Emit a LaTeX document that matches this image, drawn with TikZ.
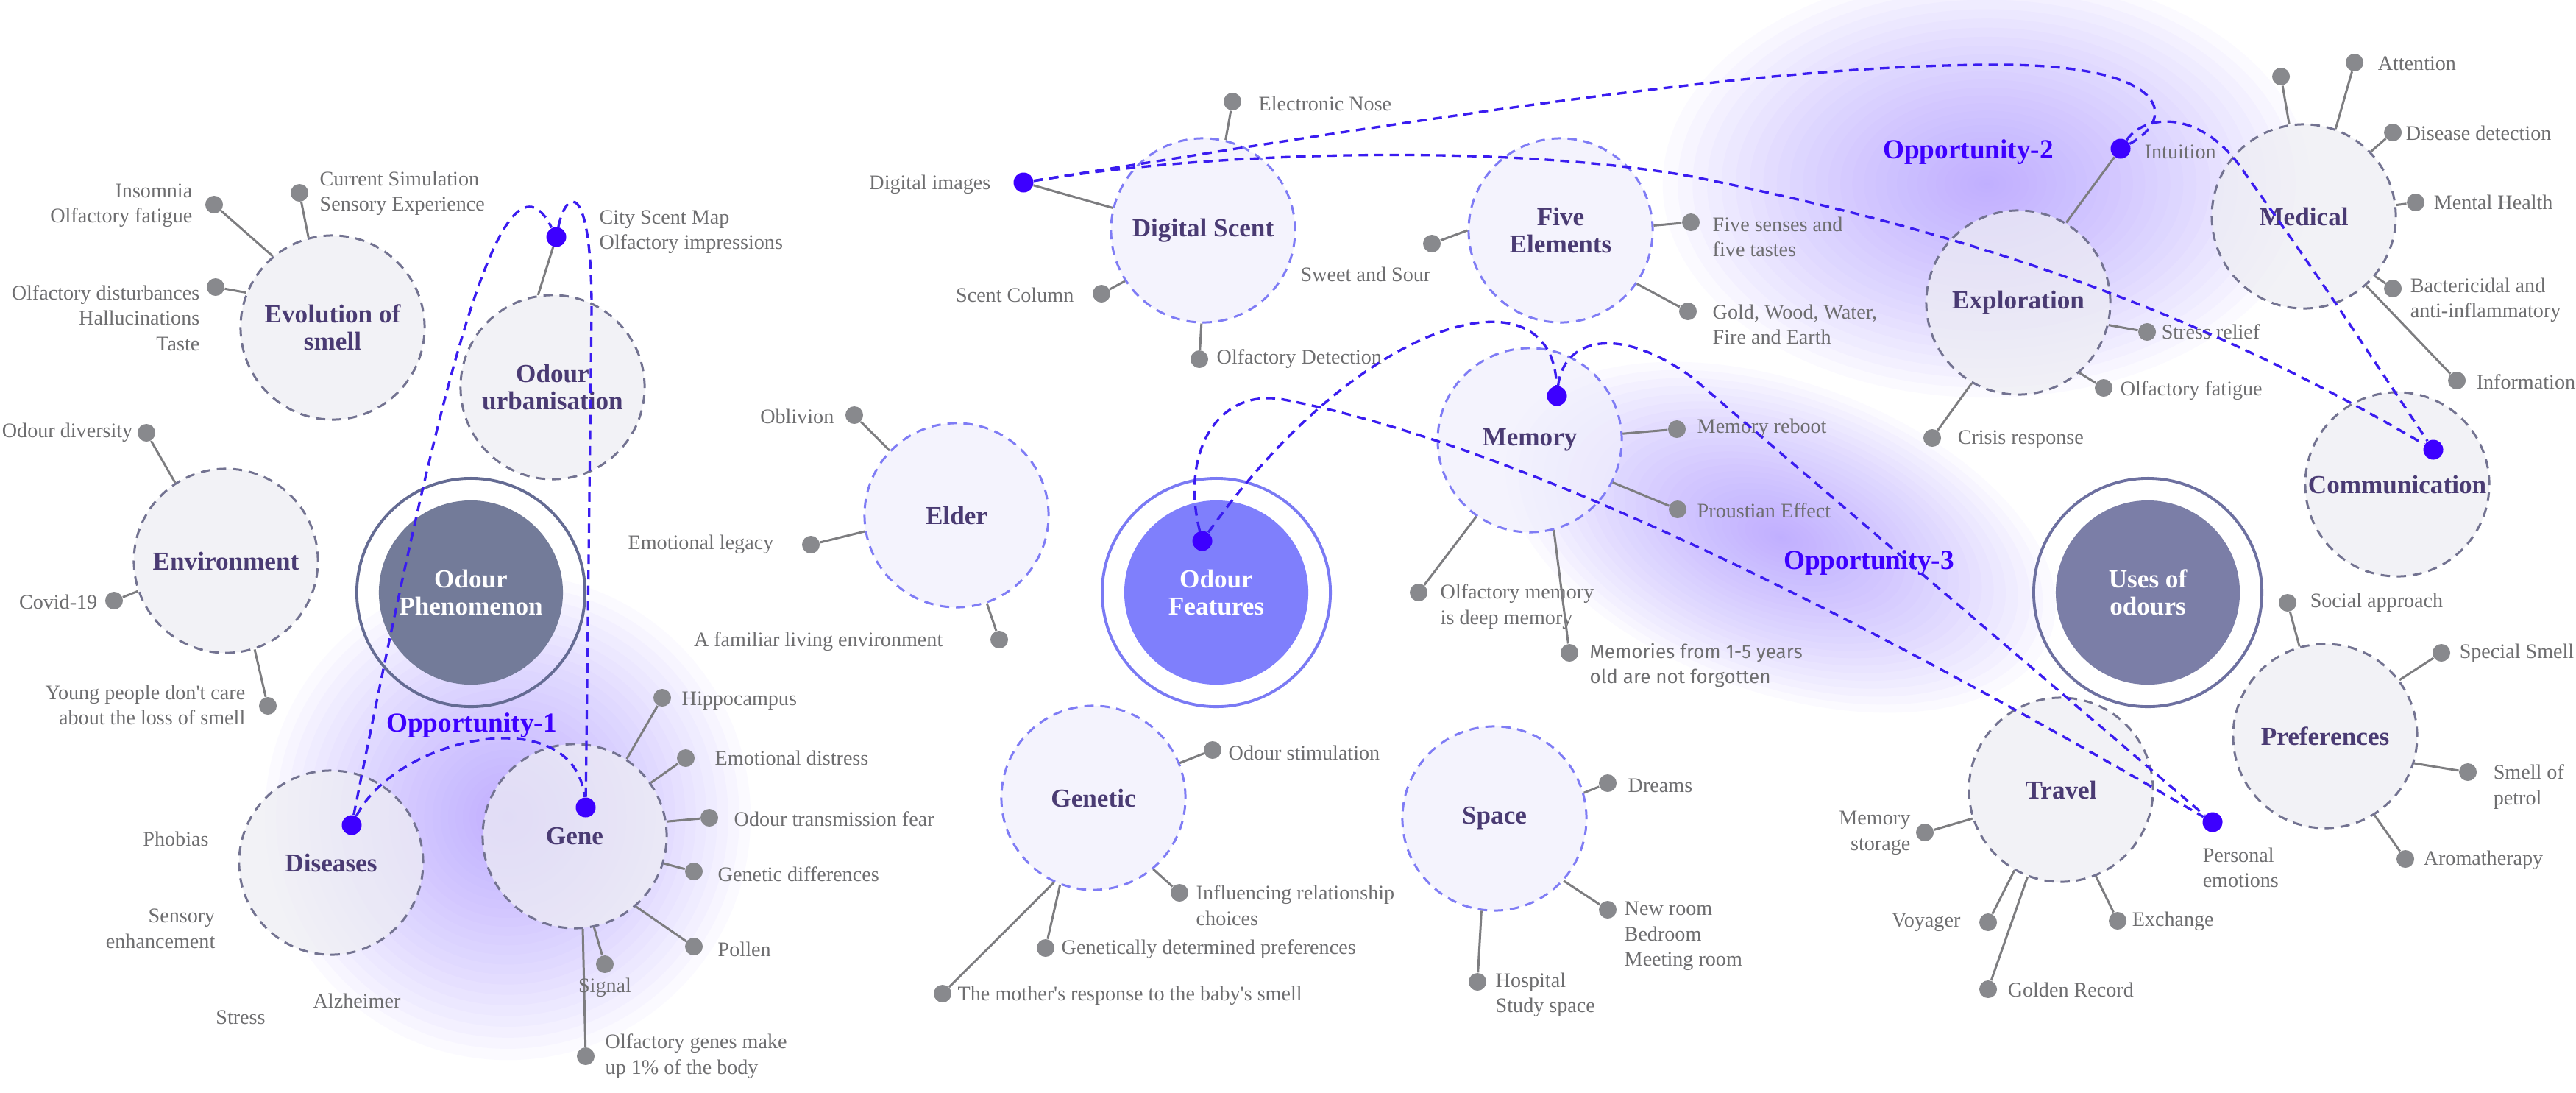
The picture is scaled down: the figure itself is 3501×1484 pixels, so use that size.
\documentclass[tikz,border=0pt]{standalone}
\usepackage{fontspec}
\setmainfont{Liberation Serif}
\newfontfamily\mysansfont{Fira Sans}
\definecolor{titlec}{HTML}{4A3B73}
\definecolor{leafc}{HTML}{6E6E70}
\definecolor{dotg}{HTML}{88898D}
\definecolor{lineg}{HTML}{7D7D80}
\definecolor{grayf}{HTML}{EEEEF3}
\definecolor{grayb}{HTML}{737391}
\definecolor{lavf}{HTML}{F0EFFD}
\definecolor{lavb}{HTML}{7F7CF5}
\definecolor{phenf}{HTML}{737B99}
\definecolor{phenr}{HTML}{646B93}
\definecolor{usesf}{HTML}{7B7EA7}
\definecolor{usesr}{HTML}{6D70A0}
\definecolor{featf}{HTML}{7F7FFC}
\definecolor{featr}{HTML}{7A7AF4}
\definecolor{blued}{HTML}{3D00FF}
\definecolor{bluel}{HTML}{3A1CF0}
\definecolor{glowc}{HTML}{B8A2FF}
\newcommand{\mytitlefont}{\fontsize{10}{10.6}\selectfont\bfseries}
\newcommand{\myleaffont}{\fontsize{8}{9.8}\selectfont}
\newcommand{\myoppfont}{\fontsize{10.6}{12}\selectfont\bfseries}
\newcommand{\apo}{\textquotesingle}
\begin{document}
\begin{tikzpicture}[x=0.01cm,y=-0.01cm,
 gc/.style={circle, minimum size=2.5cm, inner sep=0pt, draw=grayb, fill=grayf, fill opacity=0.72, text opacity=1, draw opacity=1, line width=0.85pt, dash pattern=on 3.6pt off 2.6pt, align=center, font=\mytitlefont, text=titlec},
 lc/.style={gc, draw=lavb, fill=lavf},
 bigc/.style={circle, minimum size=2.5cm, inner sep=0pt, align=center, font=\mytitlefont, text=white},
 ring/.style={circle, minimum size=3.1cm, inner sep=0pt, line width=1.1pt},
 gd/.style={circle, fill=dotg, minimum size=0.24cm, inner sep=0pt},
 bd/.style={circle, fill=blued, minimum size=0.27cm, inner sep=0pt},
 lf/.style={font=\myleaffont, text=leafc, inner sep=0pt, align=left},
 ln/.style={draw=lineg, line width=0.85pt},
 opp/.style={draw=bluel, line width=0.95pt, dash pattern=on 3.6pt off 2.4pt},
 oppt/.style={font=\myoppfont, text=blued, inner sep=0pt}]
\fill[white] (0,0) rectangle (3501,1484);
\useasboundingbox (0,0) rectangle (3501,1484);
% glows
\foreach \k in {1,...,30}{
  \pgfmathsetmacro\gf{(\k/30)^1.4}
  \fill[glowc, opacity=0.05] (690,1110) ellipse [x radius={3.3cm*\gf}, y radius={3.3cm*\gf}];
  \fill[glowc, opacity=0.05] (2700,250) ellipse [x radius={4.4cm*\gf}, y radius={2.9cm*\gf}];
  \fill[glowc, opacity=0.05, rotate around={-20:(2420,730)}] (2420,730) ellipse [x radius={3.9cm*\gf}, y radius={2.1cm*\gf}];
}
% big circles
\node[ring, draw=phenr] (phenring) at (640,805) {};
\node[bigc, fill=phenf] (phen) at (640,805) {Odour\\Phenomenon};
\node[ring, draw=featr] (featring) at (1653,805) {};
\node[bigc, fill=featf] (feat) at (1653,805) {Odour\\Features};
\node[ring, draw=usesr] (usesring) at (2919,805) {};
\node[bigc, fill=usesf] (uses) at (2919,805) {Uses of\\odours};
% topic circles
\node[gc] (evo) at (452,445) {Evolution of\\smell};
\node[gc] (urb) at (751,526) {Odour\\urbanisation};
\node[gc] (env) at (307,762) {Environment};
\node[gc] (dis) at (450,1172) {Diseases};
\node[gc] (gene) at (781,1136) {Gene};
\node[gc] (expl) at (2743,411) {Exploration};
\node[gc] (med) at (3131,294) {Medical};
\node[gc] (comm) at (3258,658) {Communication};
\node[gc] (travel) at (2801,1073) {Travel};
\node[gc] (pref) at (3160,1000) {Preferences};
\node[lc] (dsc) at (1635,313) {Digital Scent};
\node[lc] (five) at (2121,313) {Five\\Elements};
\node[lc] (mem) at (2079,598) {Memory};
\node[lc] (elder) at (1300,700) {Elder};
\node[lc] (genetic) at (1486,1084) {Genetic};
\node[lc] (space) at (2031,1112) {Space};
% blue dots
\node[bd] (bcs) at (756,322) {};
\node[bd] (bdis) at (478,1121) {};
\node[bd] (bgene) at (796,1097) {};
\node[bd] (bdi) at (1391,248) {};
\node[bd] (bmem) at (2116,538) {};
\node[bd] (bof) at (1634,735) {};
\node[bd] (bint) at (2882,202) {};
\node[bd] (bcomm) at (3307,611) {};
\node[bd] (bpe) at (3007,1117) {};
% Evolution of smell
\node[gd] (d1) at (291,278) {}; \draw[ln] (d1) -- (evo.130.5);
\node[lf, anchor=east, align=right] (t1) at (262,279) {Insomnia\\Olfactory fatigue};
\node[gd] (d2) at (407,262) {}; \draw[ln] (d2) -- (evo.105);
\node[lf, anchor=west] (t2) at (434,263) {Current Simulation\\Sensory Experience};
\node[gd] (d3) at (293,390) {}; \draw[ln] (d3) -- (evo.158);
\node[lf, anchor=east, align=right] (t3) at (272,432) {Olfactory disturbances\\Hallucinations\\Taste};
% Odour urbanisation
\draw[ln] (bcs) -- (urb.99);
\node[lf, anchor=west] (tcs) at (814,315) {City Scent Map\\Olfactory impressions};
% Environment
\node[gd] (d4) at (199,588) {}; \draw[ln] (d4) -- (env.123);
\node[lf, anchor=east] (t4) at (181,588) {Odour diversity};
\node[gd] (d5) at (155,816) {}; \draw[ln] (d5) -- (env.199);
\node[lf, anchor=east] (t5) at (133,818) {Covid-19};
\node[gd] (d6) at (364,959) {}; \draw[ln] (d6) -- (env.288);
\node[lf, anchor=east, align=right] (t6) at (334,958) {Young people don\apo t care\\about the loss of smell};
% Elder
\node[gd] (d7) at (1161,564) {}; \draw[ln] (d7) -- (elder.136);
\node[lf, anchor=east] (t7) at (1134,566) {Oblivion};
\node[gd] (d8) at (1102,740) {}; \draw[ln] (d8) -- (elder.190);
\node[lf, anchor=east] (t8) at (1052,740) {Emotional legacy};
\node[gd] (d9) at (1358,869) {}; \draw[ln] (d9) -- (elder.289);
\node[lf, anchor=east] (t9) at (1282,872) {A familiar living environment};
% Gene
\node[gd] (d10) at (900,948) {}; \draw[ln] (d10) -- (gene.56.7);
\node[lf, anchor=west] (t10) at (926,952) {Hippocampus};
\node[gd] (d11) at (932,1030) {}; \draw[ln] (d11) -- (gene.35);
\node[lf, anchor=west] (t11) at (971,1030) {Emotional distress};
\node[gd] (d12) at (964,1111) {}; \draw[ln] (d12) -- (gene.9);
\node[lf, anchor=west] (t12) at (997,1113) {Odour transmission fear};
\node[gd] (d13) at (943,1184) {}; \draw[ln] (d13) -- (gene.343);
\node[lf, anchor=west] (t13) at (975,1188) {Genetic differences};
\node[gd] (d14) at (943,1286) {}; \draw[ln] (d14) -- (gene.311);
\node[lf, anchor=west] (t14) at (975,1290) {Pollen};
\node[gd] (d15) at (822,1310) {}; \draw[ln] (d15) -- (gene.282);
\node[gd] (d16) at (796,1435) {}; \draw[ln] (d16) -- (gene.275);
\node[lf] (t15) at (822,1342) {Signal};
\node[lf, anchor=west] (t16) at (822,1435) {Olfactory genes make\\up 1\% of the body};
% Diseases
\node[lf] (t17) at (239,1140) {Phobias};
\node[lf, anchor=east, align=right] (t18) at (293,1262) {Sensory\\enhancement};
\node[lf] (t19) at (327,1382) {Stress};
\node[lf] (t20) at (485,1360) {Alzheimer};
% Digital Scent
\node[gd] (d21) at (1675,138) {}; \draw[ln] (d21) -- (dsc.76);
\node[lf, anchor=west] (t21) at (1710,141) {Electronic Nose};
\draw[ln] (bdi) -- (dsc.166.6);
\node[lf, anchor=east] (t22) at (1347,251) {Digital images};
\node[gd] (d23) at (1497,399) {}; \draw[ln] (d23) -- (dsc.213);
\node[lf, anchor=east] (t23) at (1460,401) {Scent Column};
\node[lf, anchor=west] (t24) at (1767,373) {Sweet and Sour};
\node[gd] (d25) at (1630,488) {}; \draw[ln] (d25) -- (dsc.269);
\node[lf, anchor=west] (t25) at (1653,488) {Olfactory Detection};
% Five Elements
\node[gd] (d26) at (1946,331) {}; \draw[ln] (d26) -- (five.180);
\node[gd] (d27) at (2298,302) {}; \draw[ln] (d27) -- (five.3.7);
\node[lf, anchor=west] (t27) at (2327,322) {Five senses and\\five tastes};
\node[gd] (d28) at (2294,423) {}; \draw[ln] (d28) -- (five.325);
\node[lf, anchor=west] (t28) at (2327,441) {Gold, Wood, Water,\\Fire and Earth};
% Memory
\node[gd] (d29) at (2279,583) {}; \draw[ln] (d29) -- (mem.4.6);
\node[lf, anchor=west] (t29) at (2306,582) {Memory reboot};
\node[gd] (d30) at (2280,692) {}; \draw[ln] (d30) -- (mem.333);
\node[lf, anchor=west] (t30) at (2306,694) {Proustian Effect};
\node[gd] (d31) at (1928,805) {}; \draw[ln] (d31) -- (mem.235);
\node[lf, anchor=west] (t31) at (1957,824) {Olfactory memory\\is deep memory};
\node[gd] (d32) at (2133,887) {}; \draw[ln] (d32) -- (mem.285);
\node[lf, anchor=west, font=\mysansfont\fontsize{7.4}{9.8}\selectfont] (t32) at (2160,904) {Memories from 1-5 years\\old are not forgotten};
% Genetic
\node[gd] (d33) at (1648,1019) {}; \draw[ln] (d33) -- (genetic.22);
\node[lf, anchor=west] (t33) at (1669,1023) {Odour stimulation};
\node[gd] (d34) at (1603,1213) {}; \draw[ln] (d34) -- (genetic.310);
\node[lf, anchor=west] (t34) at (1625,1230) {Influencing relationship\\choices};
\node[gd] (d35) at (1421,1288) {}; \draw[ln] (d35) -- (genetic.249);
\node[lf, anchor=west] (t35) at (1442,1290) {Genetically determined preferences};
\node[gd] (d36) at (1281,1350) {}; \draw[ln] (d36) -- (genetic.245);
\node[lf, anchor=west] (t36) at (1301,1353) {The mother\apo s response to the baby\apo s smell};
% Space
\node[gd] (d37) at (2185,1064) {}; \draw[ln] (d37) -- (space.16);
\node[lf, anchor=west] (t37) at (2212,1067) {Dreams};
\node[gd] (d38) at (2185,1236) {}; \draw[ln] (d38) -- (space.318);
\node[lf, anchor=west] (t38) at (2207,1272) {New room\\Bedroom\\Meeting room};
\node[gd] (d39) at (2008,1334) {}; \draw[ln] (d39) -- (space.262);
\node[lf, anchor=west] (t39) at (2032,1352) {Hospital\\Study space};
% Exploration
\draw[ln] (bint) -- (expl.59);
\node[lf, anchor=west] (t40) at (2914,206) {Intuition};
\node[gd] (d41) at (2918,451) {}; \draw[ln] (d41) -- (expl.346);
\node[lf, anchor=west] (t41) at (2937,451) {Stress relief};
\node[gd] (d42) at (2859,527) {}; \draw[ln] (d42) -- (expl.311);
\node[lf, anchor=west] (t42) at (2881,531) {Olfactory fatigue};
\node[gd] (d43) at (2626,595) {}; \draw[ln] (d43) -- (expl.240);
\node[lf, anchor=west] (t43) at (2660,597) {Crisis response};
% Medical
\node[gd] (d44) at (3100,104) {}; \draw[ln] (d44) -- (med.99.6);
\node[gd] (d45) at (3200,85) {}; \draw[ln] (d45) -- (med.70.6);
\node[lf, anchor=west] (t45) at (3231,86) {Attention};
\node[gd] (d46) at (3252,180) {}; \draw[ln] (d46) -- (med.44.7);
\node[lf, anchor=west] (t46) at (3269,181) {Disease detection};
\node[gd] (d47) at (3283,275) {}; \draw[ln] (d47) -- (med.7);
\node[lf, anchor=west] (t47) at (3307,275) {Mental Health};
\node[gd] (d48) at (3252,392) {}; \draw[ln] (d48) -- (med.320);
\node[lf, anchor=west] (t48) at (3275,408) {Bactericidal and\\anti-inflammatory};
\node[gd] (d49) at (3339,517) {}; \draw[ln] (d49) -- (med.312);
\node[lf, anchor=west] (t49) at (3365,519) {Information};
% Preferences
\node[gd] (d50) at (3109,819) {}; \draw[ln] (d50) -- (pref.106);
\node[lf, anchor=west] (t50) at (3139,819) {Social approach};
\node[gd] (d51) at (3318,887) {}; \draw[ln] (d51) -- (pref.37);
\node[lf, anchor=west] (t51) at (3342,888) {Special Smell};
\node[gd] (d52) at (3354,1049) {}; \draw[ln] (d52) -- (pref.343);
\node[lf, anchor=west] (t52) at (3388,1069) {Smell of\\petrol};
\node[gd] (d53) at (3269,1167) {}; \draw[ln] (d53) -- (pref.302);
\node[lf, anchor=west] (t53) at (3293,1169) {Aromatherapy};
% Travel
\node[gd] (d54) at (2616,1131) {}; \draw[ln] (d54) -- (travel.198);
\node[lf, anchor=east, align=right] (t54) at (2597,1132) {Memory\\storage};
\node[gd] (d55) at (2702,1253) {}; \draw[ln] (d55) -- (travel.240);
\node[lf, anchor=east] (t55) at (2665,1253) {Voyager};
\node[gd] (d56) at (2702,1344) {}; \draw[ln] (d56) -- (travel.249);
\node[lf, anchor=west] (t56) at (2728,1345) {Golden Record};
\node[gd] (d57) at (2878,1251) {}; \draw[ln] (d57) -- (travel.292);
\node[lf, anchor=west] (t57) at (2897,1252) {Exchange};
\node[lf, anchor=west] (t58) at (2993,1179) {Personal\\emotions};
% opportunity labels
\node[oppt] (o1) at (641,986) {Opportunity-1};
\node[oppt] (o2) at (2675,207) {Opportunity-2};
\node[oppt] (o3) at (2540,765) {Opportunity-3};
% dashed opportunity connectors
\draw[opp] (bdis) .. controls (590,560) and (680,170) .. (bcs);
\draw[opp] (bcs) .. controls (770,255) and (804,245) .. (804,420) -- (bgene);
\draw[opp] (bdis) .. controls (540,1000) and (780,950) .. (bgene);
\draw[opp] (bdi) .. controls (2000,150) and (2400,90) .. (2700,88) .. controls (2950,85) and (2960,160) .. (bint);
\draw[opp] (bint) .. controls (2915,155) and (2985,150) .. (3040,220) .. controls (3140,360) .. (bcomm);
\draw[opp] (bdi) .. controls (1650,205) and (2050,195) .. (2300,240) .. controls (2700,320) and (3000,430) .. (bcomm);
\draw[opp] (bof) .. controls (1850,430) and (2110,360) .. (bmem);
\draw[opp] (bof) .. controls (1605,620) and (1650,530) .. (1740,542) .. controls (2100,610) and (2600,880) .. (bpe);
\draw[opp] (bmem) .. controls (2125,460) and (2200,440) .. (2300,513) -- (bpe);
\end{tikzpicture}
\end{document}
